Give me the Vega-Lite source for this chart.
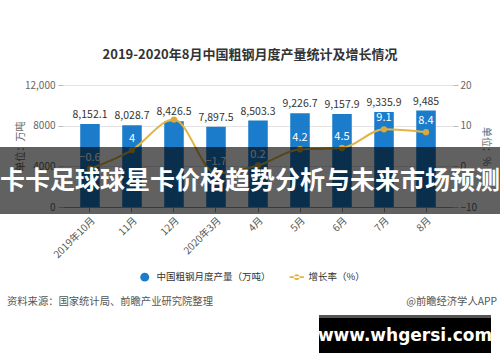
{
  "$schema": "https://vega.github.io/schema/vega-lite/v6.json",
  "width": 390,
  "height": 122,
  "autosize": {"type": "none"},
  "padding": {"left": 63, "top": 85, "right": 47, "bottom": 155},
  "background": "white",
  "config": {"font": "Noto Sans CJK SC", "view": {"stroke": null}},
  "title": {
    "text": "2019-2020年8月中国粗钢月度产量统计及增长情况",
    "fontSize": 13,
    "fontWeight": "bold",
    "color": "#333333",
    "anchor": "middle",
    "dx": -8,
    "offset": 18
  },
  "data": {
    "values": [
      {"month": "2019年10月", "output": 8152.1, "growth": -0.6},
      {"month": "11月", "output": 8028.7, "growth": 4},
      {"month": "12月", "output": 8426.5, "growth": 11.5},
      {"month": "2020年3月", "output": 7897.5, "growth": -1.7},
      {"month": "4月", "output": 8503.3, "growth": 0.2},
      {"month": "5月", "output": 9226.7, "growth": 4.2},
      {"month": "6月", "output": 9157.9, "growth": 4.5},
      {"month": "7月", "output": 9335.9, "growth": 9.1},
      {"month": "8月", "output": 9485, "growth": 8.4}
    ]
  },
  "layer": [
    {
      "layer": [
        {
          "mark": {"type": "bar"},
          "encoding": {
            "x": {
              "field": "month", "type": "nominal", "sort": null,
              "scale": {"paddingInner": 0.535, "paddingOuter": 0.41},
              "axis": {
                "title": null, "labelAngle": -45, "labelFontSize": 10, "labelColor": "#555555",
                "tickColor": "#999999", "domainColor": "#999999", "tickSize": 5, "labelPadding": 3
              }
            },
            "y": {
              "field": "output", "type": "quantitative",
              "scale": {"domain": [0, 12000]},
              "axis": {
                "title": "单位：万吨", "values": [0, 4000, 8000, 12000],
                "labelExpr": "datum.value >= 10000 ? format(datum.value, ',') : format(datum.value, 'd')",
                "grid": true, "gridColor": "#e3e3e3", "domain": false,
                "tickColor": "#bbbbbb", "tickSize": 5, "labelPadding": 3,
                "labelColor": "#666666", "labelFontSize": 10,
                "titleAngle": -90, "titleX": -43, "titleY": 61, "titleFontSize": 10,
                "titleFontWeight": "normal", "titleColor": "#666666",
                "titleAlign": "center", "titleBaseline": "middle"
              }
            },
            "color": {
              "datum": "中国粗钢月度产量（万吨）",
              "scale": {"domain": ["中国粗钢月度产量（万吨）", "增长率（%）"], "range": ["#1b7ccb", "#e3b540"]},
              "legend": {
                "orient": "none", "legendX": 77, "legendY": 187, "direction": "horizontal",
                "title": null, "labelFontSize": 9.5, "labelColor": "#333333",
                "symbolSize": 80, "columnPadding": 18, "labelOffset": 7,
                "encode": {
                  "symbols": {
                    "update": {
                      "shape": {"signal": "datum.value === '增长率（%）' ? 'M-1.6,-0.2L1.6,-0.2L1.6,0.2L-1.6,0.2Z M-0.65,0A0.65,0.65 0 1,0 0.65,0A0.65,0.65 0 1,0 -0.65,0Z' : 'circle'"},
                      "fill": {"signal": "datum.value === '增长率（%）' ? '#e3b540' : '#1b7ccb'"},
                      "strokeWidth": {"value": 0},
                      "opacity": {"value": 1}
                    }
                  }
                }
              }
            }
          }
        },
        {
          "mark": {"type": "text", "dy": -9, "fontSize": 10.5, "color": "#333333"},
          "encoding": {
            "x": {"field": "month", "type": "nominal", "sort": null},
            "y": {"field": "output", "type": "quantitative"},
            "text": {"field": "output", "type": "quantitative", "format": ","}
          }
        }
      ]
    },
    {
      "layer": [
        {
          "mark": {"type": "line", "interpolate": "monotone", "strokeWidth": 2},
          "encoding": {
            "x": {"field": "month", "type": "nominal", "sort": null},
            "y": {
              "field": "growth", "type": "quantitative",
              "scale": {"domain": [-10, 20]},
              "axis": {
                "title": "单位：%", "values": [-10, 0, 10, 20], "grid": false, "domain": false,
                "tickSize": 5, "tickColor": "#bbbbbb", "labelPadding": 2,
                "labelColor": "#666666", "labelFontSize": 10,
                "titleAngle": 90, "titleX": 32, "titleY": 61, "titleFontSize": 10,
                "titleFontWeight": "normal", "titleColor": "#666666",
                "titleAlign": "center", "titleBaseline": "middle"
              }
            },
            "color": {"datum": "增长率（%）"}
          }
        },
        {
          "mark": {"type": "point", "filled": true, "size": 40, "opacity": 1, "color": "#d9a93a"},
          "encoding": {
            "x": {"field": "month", "type": "nominal", "sort": null},
            "y": {"field": "growth", "type": "quantitative"}
          }
        },
        {
          "transform": [{"filter": "datum.month !== '12月'"}],
          "mark": {"type": "text", "dy": -11, "fontSize": 11, "color": "white"},
          "encoding": {
            "x": {"field": "month", "type": "nominal", "sort": null},
            "y": {"field": "growth", "type": "quantitative"},
            "text": {"field": "growth", "type": "quantitative", "format": ".1~f"}
          }
        }
      ]
    },
    {
      "data": {"values": [{"t": "卡卡足球球星卡价格趋势分析与未来市场预测"}]},
      "layer": [
        {
          "mark": {"type": "rect", "color": "black", "opacity": 0.62},
          "encoding": {"x": {"value": -63}, "x2": {"value": 437}, "y": {"value": 62}, "y2": {"value": 129}}
        },
        {
          "mark": {"type": "text", "color": "white", "fontSize": 25, "fontWeight": "bold", "align": "center", "baseline": "middle"},
          "encoding": {"x": {"value": 187}, "y": {"value": 96}, "text": {"field": "t"}}
        }
      ]
    },
    {
      "data": {"values": [{"t": "www.whgersi.com"}]},
      "layer": [
        {
          "mark": {"type": "rect", "color": "black"},
          "encoding": {"x": {"value": 256}, "x2": {"value": 428}, "y": {"value": 230}, "y2": {"value": 268}}
        },
        {
          "mark": {"type": "rect", "color": "#555555"},
          "encoding": {"x": {"value": 256}, "x2": {"value": 428}, "y": {"value": 230}, "y2": {"value": 233}}
        },
        {
          "mark": {"type": "text", "color": "white", "fontSize": 17, "fontWeight": "bold", "align": "center", "baseline": "middle", "font": "DejaVu Sans"},
          "encoding": {"x": {"value": 342}, "y": {"value": 251}, "text": {"field": "t"}}
        }
      ]
    },
    {
      "data": {"values": [{"t": "资料来源：国家统计局、前瞻产业研究院整理"}]},
      "mark": {"type": "text", "color": "#555555", "fontSize": 10.3, "align": "left", "baseline": "middle"},
      "encoding": {"x": {"value": -56}, "y": {"value": 217}, "text": {"field": "t"}}
    },
    {
      "data": {"values": [{"t": "@前瞻经济学人APP"}]},
      "mark": {"type": "text", "color": "#555555", "fontSize": 10.3, "align": "right", "baseline": "middle"},
      "encoding": {"x": {"value": 434}, "y": {"value": 217}, "text": {"field": "t"}}
    }
  ],
  "resolve": {"scale": {"y": "independent"}}
}
